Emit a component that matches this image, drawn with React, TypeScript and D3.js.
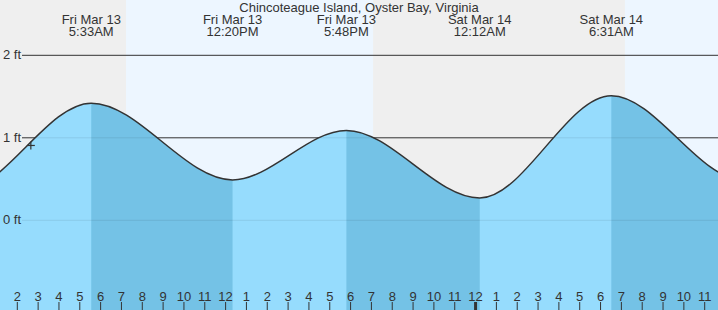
import React from "react";
import * as d3 from "d3";

// Times are hours since Fri Mar 13 00:00 (first and last two points lie off-screen)
const extremeTimes = [-7.0, -0.75, 5.55, 12.333, 17.8, 24.2, 30.517, 36.83, 43.0];
const extremeValues = [1.3, 0.35, 1.42, 0.49, 1.09, 0.27, 1.51, 0.49, 1.3];

const labelTimes = [5.55, 12.333, 17.8, 24.2, 30.517];
const labelDays = ["Fri Mar 13", "Fri Mar 13", "Fri Mar 13", "Sat Mar 14", "Sat Mar 14"];
const labelClock = ["5:33AM", "12:20PM", "5:48PM", "12:12AM", "6:31AM"];

const dayStarts = [7.22, 31.17];
const dayEnds = [19.08, 48];

const yTicks = [0, 1, 2];
const hourTicks = d3.range(2, 36);

const markerTime = 2.65;
const markerValue = 0.907;

const TITLE = "Chincoteague Island, Oyster Bay, Virginia";

const W = 718;
const H = 310;

export default function App() {
  const x = d3.scaleLinear().domain([2, 35]).range([17.3, 704.7]);
  const y = d3.scaleLinear().domain([0, 2]).range([220.3, 55.3]);
  const pts = extremeTimes.map((t, i) => [t, extremeValues[i]] as [number, number]);
  const area = d3
    .area<[number, number]>()
    .x((d) => x(d[0]))
    .y0(H)
    .y1((d) => y(d[1]))
    .curve(d3.curveMonotoneX);
  const line = d3
    .line<[number, number]>()
    .x((d) => x(d[0]))
    .y((d) => y(d[1]))
    .curve(d3.curveMonotoneX);

  const font = "'Liberation Sans', Arial, sans-serif";
  const textColor = "#333";

  const hourLabel = (t: number) => {
    const h = ((t % 24) + 24) % 24;
    const h12 = h % 12 === 0 ? 12 : h % 12;
    return String(h12);
  };

  return (
    <svg
      width={W}
      height={H}
      style={{ position: "absolute", left: 0, top: 0 }}
      fontFamily={font}
    >
      <defs>
        <clipPath id="water">
          <path d={area(pts) || ""} />
        </clipPath>
        <clipPath id="plot">
          <rect x={0} y={0} width={W} height={H} />
        </clipPath>
      </defs>
      {/* night background */}
      <rect x={0} y={0} width={W} height={H} fill="#efefef" />
      {dayStarts.map((s, i) => (
        <rect
          key={i}
          x={x(s)}
          y={0}
          width={Math.max(0, Math.min(W, x(dayEnds[i])) - x(s))}
          height={H}
          fill="#edf6ff"
        />
      ))}
      {/* grid lines under water */}
      {yTicks.map((v) => (
        <line key={v} x1={22} x2={W} y1={y(v)} y2={y(v)} stroke="#333" strokeWidth={1} />
      ))}
      {/* water */}
      <g clipPath="url(#water)">
        <rect x={0} y={0} width={W} height={H} fill="#96dcfd" />
        {extremeTimes.slice(0, -1).map((t, i) =>
          extremeValues[i + 1] < extremeValues[i] ? (
            <rect
              key={i}
              x={x(t)}
              y={0}
              width={x(extremeTimes[i + 1]) - x(t)}
              height={H}
              fill="#74c2e6"
            />
          ) : null
        )}
        {yTicks.map((v) => (
          <line key={v} x1={22} x2={W} y1={y(v)} y2={y(v)} stroke="rgba(0,0,0,0.08)" strokeWidth={1} />
        ))}
      </g>
      <path d={line(pts) || ""} fill="none" stroke="#333" strokeWidth={1.5} clipPath="url(#plot)" />
      {/* y labels */}
      {yTicks.map((v) => (
        <text key={v} x={3} y={y(v) + 4} fontSize={13} fill={textColor}>
          {v} ft
        </text>
      ))}
      {/* title */}
      <text x={W / 2} y={12} fontSize={13} fill={textColor} textAnchor="middle">
        {TITLE}
      </text>
      {labelTimes.map((t, i) => (
        <g key={i}>
          <text x={x(t)} y={24} fontSize={13} fill={textColor} textAnchor="middle">
            {labelDays[i]}
          </text>
          <text x={x(t)} y={36} fontSize={13} fill={textColor} textAnchor="middle">
            {labelClock[i]}
          </text>
        </g>
      ))}
      {/* hour ticks */}
      {hourTicks.map((t) => (
        <g key={t}>
          <text x={x(t)} y={301} fontSize={13} fill={textColor} textAnchor="middle">
            {hourLabel(t)}
          </text>
          <line
            x1={x(t)}
            x2={x(t)}
            y1={302}
            y2={H}
            stroke="#333"
            strokeWidth={t % 24 === 0 ? 3 : 1}
          />
        </g>
      ))}
      {/* current marker */}
      <g stroke="#333" strokeWidth={1.2}>
        <line x1={x(markerTime) - 4} x2={x(markerTime) + 4} y1={y(markerValue)} y2={y(markerValue)} />
        <line x1={x(markerTime)} x2={x(markerTime)} y1={y(markerValue) - 4} y2={y(markerValue) + 4} />
      </g>
    </svg>
  );
}
